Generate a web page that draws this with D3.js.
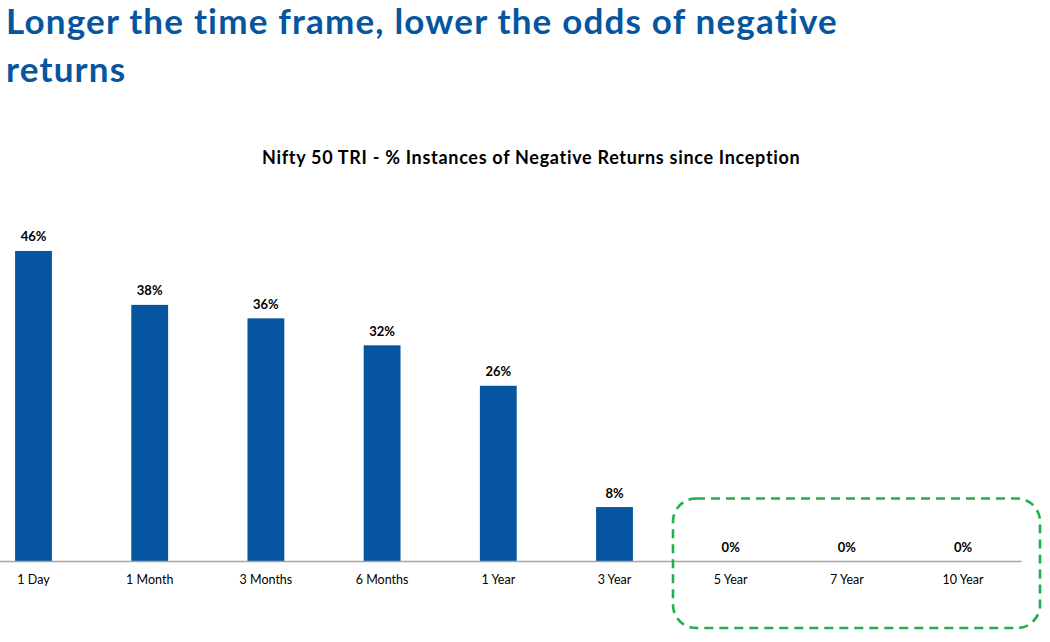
<!DOCTYPE html>
<html>
<head>
<meta charset="utf-8">
<script src="https://cdn.jsdelivr.net/npm/d3@7"></script>
<style>
  body { margin: 0; background: #fff; }
  svg { display: block; font-family: Lato, "Open Sans", sans-serif; }
</style>
</head>
<body>
<script>
const periods = ["1 Day", "1 Month", "3 Months", "6 Months", "1 Year", "3 Year", "5 Year", "7 Year", "10 Year"];
const negativePct = [46, 38, 36, 32, 26, 8, 0, 0, 0];

const width = 1050, height = 642;
const blue = "#0555a0";

const svg = d3.select("body").append("svg")
    .attr("width", width)
    .attr("height", height);

// stretch a text to a target width with letter spacing
function spread(sel, target) {
  const w = sel.node().getComputedTextLength();
  const n = sel.text().length;
  sel.attr("letter-spacing", (target - w) / (n - 1));
}

// headline
const head = svg.append("g")
    .attr("fill", blue)
    .attr("font-weight", 700)
    .attr("font-size", 35);
const l1 = head.append("text")
    .attr("x", 6).attr("y", 34)
    .text("Longer the time frame, lower the odds of negative");
spread(l1, 832);
head.append("text")
    .attr("x", 6).attr("y", 82)
    .attr("letter-spacing", l1.attr("letter-spacing"))
    .text("returns");

// chart title
const title = svg.append("text")
    .attr("x", 262).attr("y", 164)
    .attr("font-size", 18)
    .attr("font-weight", 700)
    .attr("fill", "#000")
    .text("Nifty 50 TRI - % Instances of Negative Returns since Inception");
spread(title, 538);

const baseY = 561;
const x = d3.scaleBand()
    .domain(periods)
    .range([-24.6, 1021.2])
    .paddingInner(0.683)
    .paddingOuter(0.683 / 2);

const y = d3.scaleLinear()
    .domain([0, 50])
    .range([baseY, baseY - 337]);

const data = periods.map((p, i) => ({period: p, value: negativePct[i]}));

svg.append("g")
  .selectAll("rect")
  .data(data)
  .join("rect")
    .attr("x", d => x(d.period))
    .attr("y", d => y(d.value))
    .attr("width", x.bandwidth())
    .attr("height", d => y(0) - y(d.value))
    .attr("fill", blue);

svg.append("g")
    .attr("font-size", 13)
    .attr("font-weight", 700)
    .attr("text-anchor", "middle")
    .attr("fill", "#000")
  .selectAll("text")
  .data(data)
  .join("text")
    .attr("x", d => x(d.period) + x.bandwidth() / 2)
    .attr("y", d => y(d.value) - 9.5)
    .text(d => d.value + "%");

// category axis
const axis = svg.append("g")
    .attr("transform", `translate(0,${baseY})`)
    .call(d3.axisBottom(x).tickSize(0).tickPadding(14));
axis.select(".domain").attr("stroke", "#a6a6a6").attr("stroke-width", 1.3);
axis.selectAll(".tick text")
    .attr("font-family", "Lato, 'Open Sans', sans-serif")
    .attr("font-size", 12.5)
    .attr("fill", "#000");

// dashed highlight box around the zero-return periods
svg.append("rect")
    .attr("x", 673)
    .attr("y", 498.5)
    .attr("width", 1040 - 673)
    .attr("height", 628 - 498.5)
    .attr("rx", 23)
    .attr("fill", "none")
    .attr("stroke", "#1fb04a")
    .attr("stroke-width", 2.6)
    .attr("stroke-dasharray", "9,6");
</script>
</body>
</html>
